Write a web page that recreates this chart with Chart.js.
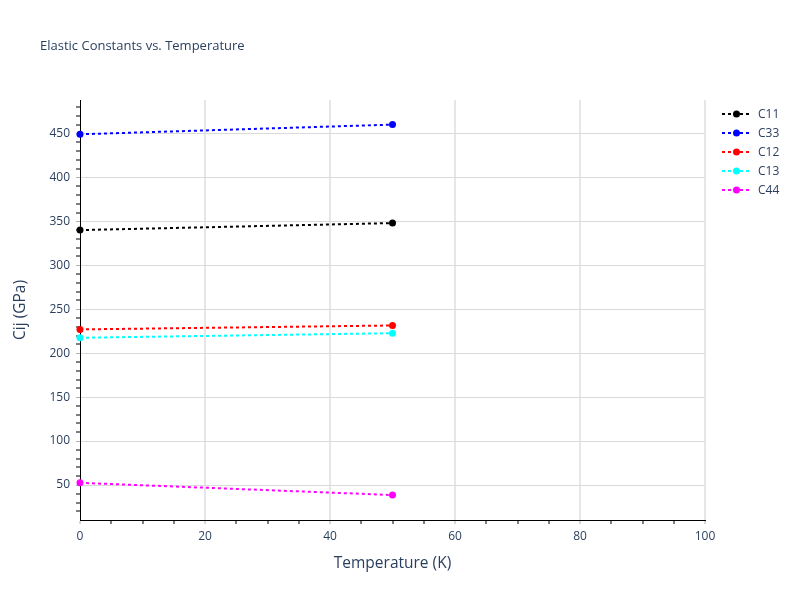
<!DOCTYPE html>
<html>
<head>
<meta charset="utf-8">
<title>Elastic Constants vs. Temperature</title>
<script src="https://cdn.jsdelivr.net/npm/chart.js@4.4.0/dist/chart.umd.min.js"></script>
<style>
  html, body { margin: 0; padding: 0; background: #fff; }
  #wrap { width: 800px; height: 600px; }
</style>
</head>
<body>
<div id="wrap"><canvas id="elasticChart" width="800" height="600"></canvas></div>
<script>
// data
const temperatures = [0, 50];
const seriesNames = ['C11', 'C33', 'C12', 'C13', 'C44'];
const c11 = [340, 348];
const c33 = [449, 460];
const c12 = [227, 231.5];
const c13 = [217.5, 222.7];
const c44 = [52.5, 38.6];
const seriesColors = ['#000000', '#0000ff', '#ff0000', '#00ffff', '#ff00ff'];

const xTickLabels = [0, 20, 40, 60, 80, 100];
const yTickLabels = [50, 100, 150, 200, 250, 300, 350, 400, 450];
const xMinorStep = 5;
const yMinorStep = 10;

const textColor = '#2a3f5f';
const fontFamily = '"Open Sans", "Liberation Sans", Arial, sans-serif';

const allSeries = [c11, c33, c12, c13, c44];

function buildDataset(name, values, color) {
    return {
        label: name,
        data: temperatures.map((t, i) => ({ x: t, y: values[i] })),
        borderColor: color,
        backgroundColor: color,
        borderWidth: 2,
        borderDash: [3, 3],
        pointRadius: 3.5,
        pointHoverRadius: 4,
        pointBorderWidth: 0,
        tension: 0,
        clip: false
    };
}

function minorTicks(scale, step) {
    const ticks = [];
    const start = Math.ceil(scale.min / step) * step;
    for (let v = start; v <= scale.max + 1e-9; v += step) {
        ticks.push({ value: v });
    }
    scale.ticks = ticks;
}

// title and legend drawn by hand so their place matches the reference
const decorations = {
    id: 'decorations',
    afterDraw(chart) {
        const ctx = chart.ctx;
        ctx.save();
        ctx.fillStyle = textColor;
        ctx.font = '13px ' + fontFamily;
        ctx.textAlign = 'left';
        ctx.textBaseline = 'middle';
        ctx.fillText('Elastic Constants vs. Temperature', 40, 46);

        chart.data.datasets.forEach(function (ds, i) {
            const y = 114 + i * 19;
            ctx.strokeStyle = ds.borderColor;
            ctx.lineWidth = 2;
            ctx.setLineDash([3, 3]);
            ctx.beginPath();
            ctx.moveTo(722, y);
            ctx.lineTo(751, y);
            ctx.stroke();
            ctx.setLineDash([]);
            ctx.fillStyle = ds.borderColor;
            ctx.beginPath();
            ctx.arc(736.5, y, 3.5, 0, Math.PI * 2);
            ctx.fill();
            ctx.fillStyle = textColor;
            ctx.font = '12px ' + fontFamily;
            ctx.fillText(ds.label, 758, y + 1);
        });
        ctx.restore();
    }
};

const ctx = document.getElementById('elasticChart').getContext('2d');
const elasticChart = new Chart(ctx, {
    type: 'line',
    data: {
        datasets: seriesNames.map((n, i) => buildDataset(n, allSeries[i], seriesColors[i]))
    },
    options: {
        responsive: false,
        animation: false,
        layout: {
            padding: { left: 0, top: 100, right: 95, bottom: 0 }
        },
        plugins: {
            legend: { display: false },
            title: { display: false },
            tooltip: { enabled: false }
        },
        scales: {
            x: {
                type: 'linear',
                min: 0,
                max: 100,
                afterBuildTicks: function (scale) { minorTicks(scale, xMinorStep); },
                afterFit: function (scale) { scale.height = 80; },
                ticks: {
                    autoSkip: false,
                    maxRotation: 0,
                    padding: 5,
                    color: textColor,
                    font: { family: fontFamily, size: 12 },
                    callback: function (value) {
                        return xTickLabels.includes(value) ? String(value) : '';
                    }
                },
                grid: {
                    drawTicks: true,
                    tickLength: 4,
                    lineWidth: function (c) { return xTickLabels.includes(c.tick && c.tick.value) ? 2 : 0; },
                    color: function (c) {
                        const v = c.tick && c.tick.value;
                        return (xTickLabels.includes(v) && v !== 0) ? '#e6e6e6' : 'rgba(0,0,0,0)';
                    },
                    tickColor: function (c) {
                        return xTickLabels.includes(c.tick && c.tick.value) ? '#b0b0b0' : '#000000';
                    },
                    tickWidth: 1
                },
                border: { display: true, color: '#000000', width: 1 },
                title: {
                    display: true,
                    text: 'Temperature (K)',
                    color: textColor,
                    font: { family: fontFamily, size: 15.5 },
                    padding: { top: 27, bottom: 27 }
                }
            },
            y: {
                type: 'linear',
                min: 10.2,
                max: 488,
                afterBuildTicks: function (scale) { minorTicks(scale, yMinorStep); },
                afterFit: function (scale) { scale.width = 80; },
                ticks: {
                    autoSkip: false,
                    includeBounds: false,
                    padding: 6,
                    color: textColor,
                    font: { family: fontFamily, size: 12 },
                    callback: function (value) {
                        return yTickLabels.includes(value) ? String(value) : '';
                    }
                },
                grid: {
                    drawTicks: true,
                    tickLength: 4,
                    lineWidth: function (c) { return yTickLabels.includes(c.tick && c.tick.value) ? 1 : 0; },
                    color: function (c) {
                        return yTickLabels.includes(c.tick && c.tick.value) ? '#dadada' : 'rgba(0,0,0,0)';
                    },
                    tickColor: function (c) {
                        return yTickLabels.includes(c.tick && c.tick.value) ? '#b0b0b0' : '#000000';
                    },
                    tickWidth: 1
                },
                border: { display: true, color: '#000000', width: 1 },
                title: {
                    display: true,
                    text: 'Cij (GPa)',
                    color: textColor,
                    font: { family: fontFamily, size: 15.5 },
                    padding: { top: 11, bottom: 11 }
                }
            }
        }
    },
    plugins: [decorations]
});
</script>
</body>
</html>
